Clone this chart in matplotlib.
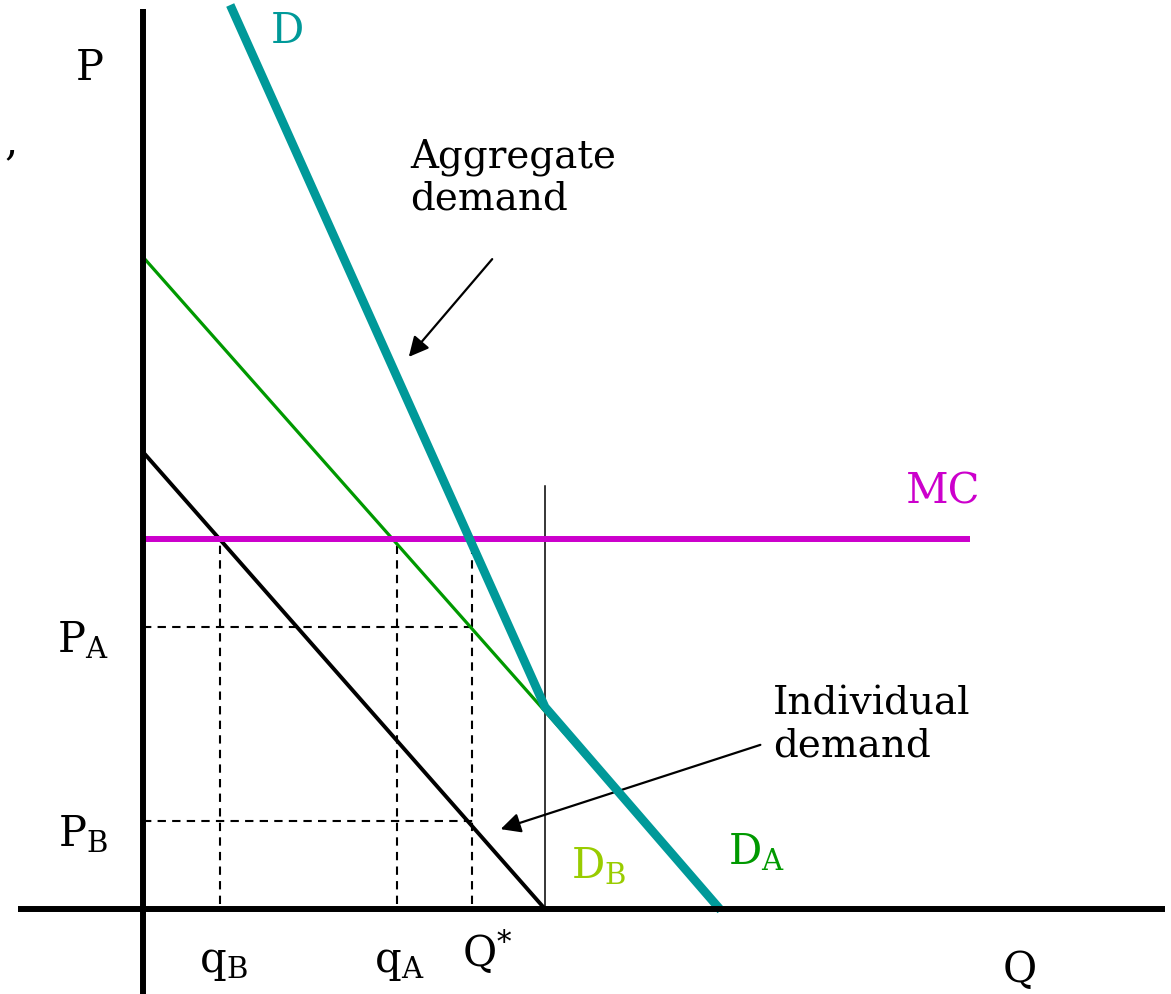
import numpy as np
import matplotlib
matplotlib.use("Agg")
import matplotlib.pyplot as plt

plt.rcParams["font.family"] = ["DejaVu Serif Condensed", "DejaVu Serif"]
plt.rcParams["mathtext.fontset"] = "dejavuserif"

# demand curves (price intercept, quantity intercept), units
DA = (6.52, 5.77)      # individual demand A (green)
DB = (4.57, 4.02)      # individual demand B (black)
# aggregate (vertical sum) demand, vertices
D_Q = [0.89, 4.02, 5.75]
D_P = [9.00, 2.02, 0.02]
MC = 3.70
MC_END = 8.27
q_B, q_A, Q_star = 0.77, 2.54, 3.29
P_A, P_B = 2.82, 0.88

TEAL = "#009999"
GREEN = "#009900"
LIME = "#99CC00"
MAGENTA = "#CC00CC"

fig = plt.figure(figsize=(11.71, 9.95), dpi=100)
ax = fig.add_axes([0, 0, 1, 1])
ax.set_xlim(-1.43, 10.28)
ax.set_ylim(-0.85, 9.10)
ax.axis("off")

# axes
ax.plot([0, 0], [-0.85, 9.0], color="black", lw=4.3, solid_capstyle="butt", zorder=5)
ax.plot([-1.25, 10.22], [0, 0], color="black", lw=4.3, solid_capstyle="butt", zorder=5)

# individual demands
ax.plot([0, DA[1]], [DA[0], 0], color=GREEN, lw=2.3, zorder=3)
ax.plot([0, DB[1]], [DB[0], 0], color="black", lw=2.8, zorder=3)
# vertical line at end of D_B
ax.plot([DB[1], DB[1]], [0, 4.23], color="black", lw=1.1, zorder=2)
# aggregate demand
ax.plot(D_Q, D_P, color=TEAL, lw=6.3, solid_joinstyle="round", zorder=4)
# marginal cost
ax.plot([0, MC_END], [MC, MC], color=MAGENTA, lw=4.3, solid_capstyle="butt", zorder=3)

# dashed guides
dash = dict(color="black", lw=1.5, ls=(0, (4, 3)), zorder=2)
for q in (q_B, q_A, Q_star):
    ax.plot([q, q], [0.05, MC], **dash)
for p in (P_A, P_B):
    ax.plot([0, Q_star + 0.03], [p, p], **dash)

fs = 30
sub = dict(fontsize=fs, ha="center", va="center")
ax.text(-0.53, 8.42, "P", **sub)
ax.text(8.77, -0.60, "Q", **sub)
ax.text(1.44, 8.79, "D", color=TEAL, **sub)
ax.text(8.0, 4.18, "MC", color=MAGENTA, **sub)
ax.text(-0.60, 2.70, r"P$_{\mathrm{A}}$", **sub)
ax.text(-0.60, 0.76, r"P$_{\mathrm{B}}$", **sub)
ax.text(0.80, -0.52, r"q$_{\mathrm{B}}$", **sub)
ax.text(2.56, -0.52, r"q$_{\mathrm{A}}$", **sub)
ax.text(3.44, -0.42, r"Q$^{*}$", **sub)
ax.text(4.56, 0.44, r"D$_{\mathrm{B}}$", color=LIME, **sub)
ax.text(6.14, 0.58, r"D$_{\mathrm{A}}$", color=GREEN, **sub)
ax.text(-1.32, 7.68, ",", **sub)

ax.text(2.67, 7.32, "Aggregate\ndemand", fontsize=28, ha="left", va="center",
        linespacing=1.18)
ax.annotate("", xy=(2.64, 5.50), xytext=(3.51, 6.52),
            arrowprops=dict(arrowstyle="-|>", color="black", lw=1.6,
                            mutation_scale=30))
ax.text(6.30, 1.85, "Individual\ndemand", fontsize=28, ha="left", va="center",
        linespacing=1.18)
ax.annotate("", xy=(3.55, 0.79), xytext=(6.20, 1.65),
            arrowprops=dict(arrowstyle="-|>", color="black", lw=1.6,
                            mutation_scale=30))

fig.savefig("out.png", dpi=100, facecolor="white")
